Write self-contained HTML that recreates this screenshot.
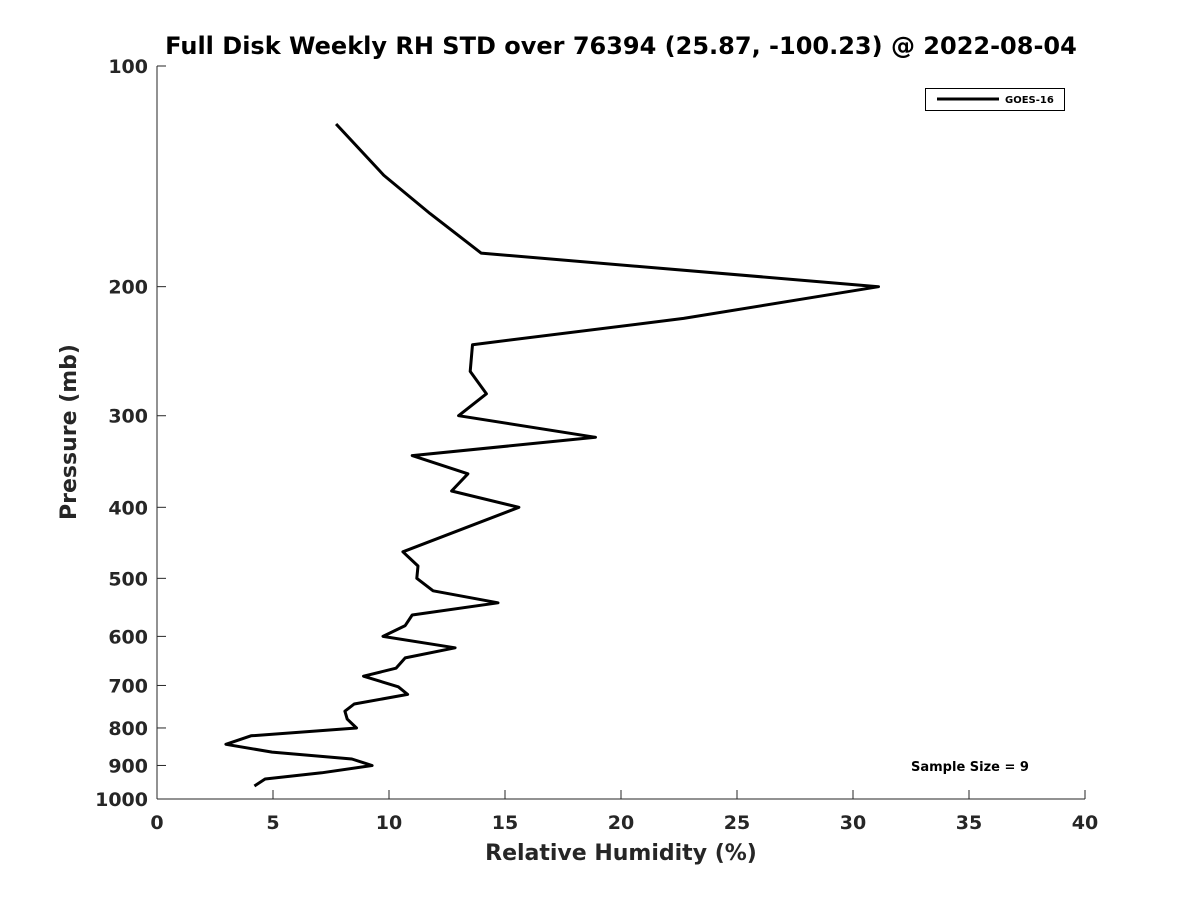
<!DOCTYPE html>
<html><head><meta charset="utf-8"><style>
body{margin:0;background:#fff;}
svg text{font-family:"DejaVu Sans","Liberation Sans",sans-serif;font-weight:bold;fill:#262626;}
</style></head><body>
<svg width="1200" height="900">
<rect width="1200" height="900" fill="#fff"/>
<text x="621" y="54" font-size="24" text-anchor="middle" style="fill:#000">Full Disk Weekly RH STD over 76394 (25.87, -100.23) @ 2022-08-04</text>
<g id="axes"></g>
<path id="line" fill="none" stroke="#000" stroke-width="3" stroke-linejoin="round"/>
<g>
<rect x="925.5" y="88.5" width="139" height="22" fill="#fff" stroke="#000" stroke-width="1"/>
<line x1="937" y1="99" x2="999" y2="99" stroke="#000" stroke-width="3"/>
<text x="1005" y="103" font-size="10" style="fill:#000">GOES-16</text>
</g>
<text x="911" y="771" font-size="13" style="fill:#000">Sample Size = 9</text>
<text x="621" y="860" font-size="22" text-anchor="middle">Relative Humidity (%)</text>
<text transform="translate(76,432) rotate(-90)" font-size="22" text-anchor="middle">Pressure (mb)</text>
</svg>
<script>
const rhValues=[7.72,9.78,11.77,13.97,31.1,22.7,13.6,13.5,14.2,13.0,18.9,11.0,13.4,12.7,15.6,10.6,11.25,11.2,11.9,14.7,11.0,10.7,9.74,12.85,10.7,10.3,8.9,10.4,10.8,8.5,8.1,8.2,8.6,4.05,2.97,4.96,8.4,9.27,7.1,4.66,4.2];
const pressures=[120,141,159,180,200,221,240,261,280,300,321,340,360,380,400,460,481,500,520,540,561,580,600,622,642,663,680,703,720,742,759,778,800,820,842,863,882,900,921,939,960];
const xTicks=[0,5,10,15,20,25,30,35,40];
const yTicks=[100,200,300,400,500,600,700,800,900,1000];
const X0=157,X1=1085,Y0=66,Y1=799;
const xs=v=>X0+(v/40)*(X1-X0);
const ys=p=>Y0+(Math.log10(p)-2)*(Y1-Y0);
const NS="http://www.w3.org/2000/svg";
const ax=document.getElementById('axes');
function mk(t,a){const e=document.createElementNS(NS,t);for(const k in a)e.setAttribute(k,a[k]);ax.appendChild(e);return e;}
const la=mk('line',{x1:X0,y1:Y0,x2:X0,y2:Y1,stroke:'#262626','stroke-width':1});


const ba=mk('line',{x1:X0,y1:Y1,x2:X1,y2:Y1,stroke:'#262626','stroke-width':1});


xTicks.forEach(v=>{const x=xs(v);
mk('line',{x1:x,y1:Y1,x2:x,y2:Y1-9,stroke:'#262626'});
const t=mk('text',{x:x,y:Y1+30,'font-size':19,'text-anchor':'middle'});t.textContent=v;

});
yTicks.forEach(p=>{const y=ys(p);
mk('line',{x1:X0,y1:y,x2:X0+9,y2:y,stroke:'#262626'});
const t=mk('text',{x:X0-9,y:y+7,'font-size':19,'text-anchor':'end'});t.textContent=p;

});
document.getElementById('line').setAttribute('d',rhValues.map((v,i)=>(i?'L':'M')+xs(v).toFixed(1)+','+ys(pressures[i]).toFixed(1)).join(''));
</script>
</body></html>
